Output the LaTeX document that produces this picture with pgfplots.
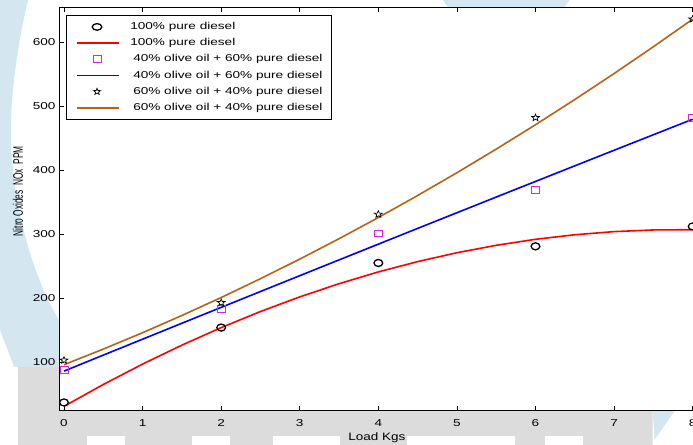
\documentclass[border=0pt]{standalone}
\usepackage{fontspec}
\setmainfont{Liberation Sans}[FakeStretch=1.36]
\newfontfamily\plainsans{Liberation Sans}
\usepackage{graphicx}
\usepackage{pgfplots}
\pgfplotsset{compat=1.18}
\definecolor{mybrown}{RGB}{180,100,25}
\definecolor{mymag}{RGB}{210,40,210}
\definecolor{wmgray}{RGB}{220,220,220}
\definecolor{wmblue}{RGB}{212,230,240}

\pgfdeclareplotmark{ostar}{%
  \pgfpathmoveto{\pgfpointpolar{90}{\pgfplotmarksize}}%
  \pgfpathlineto{\pgfpointpolar{126}{0.42\pgfplotmarksize}}%
  \pgfpathlineto{\pgfpointpolar{162}{\pgfplotmarksize}}%
  \pgfpathlineto{\pgfpointpolar{198}{0.42\pgfplotmarksize}}%
  \pgfpathlineto{\pgfpointpolar{234}{\pgfplotmarksize}}%
  \pgfpathlineto{\pgfpointpolar{270}{0.42\pgfplotmarksize}}%
  \pgfpathlineto{\pgfpointpolar{306}{\pgfplotmarksize}}%
  \pgfpathlineto{\pgfpointpolar{342}{0.42\pgfplotmarksize}}%
  \pgfpathlineto{\pgfpointpolar{18}{\pgfplotmarksize}}%
  \pgfpathlineto{\pgfpointpolar{54}{0.42\pgfplotmarksize}}%
  \pgfpathclose
  \pgfusepathqstroke
}

\begin{document}
\begin{tikzpicture}
% background watermark
\begin{scope}[shift={(-59bp,411bp)}, x=1bp, y=-1bp]
\fill[wmblue] (0,0) -- (28,0) .. controls (14,60) and (8,120) .. (12,160) .. controls (18,230) and (40,290) .. (59,320) -- (59,367) -- (14,367) -- (0,330) -- cycle;
\fill[wmblue] (443,0) -- (570,0) -- (565,7) -- (448,7) -- cycle;
\fill[wmgray] (18,367) -- (59,367) -- (59,411) -- (653,411) -- (653,445) -- (18,445) -- cycle;
\fill[wmblue] (653,411) -- (675,411) -- (655,440) -- cycle;
\fill[white] (87,436) rectangle (125,445);
\fill[white] (192,436) rectangle (230,445);
\fill[white] (273,436) rectangle (340,445);
\fill[white] (407,436) rectangle (515,445);
\fill[white] (545,436) rectangle (583,445);
\end{scope}
\begin{axis}[
  width=641.9bp, height=404bp, scale only axis,
  xmin=-0.064, xmax=8.1, ymin=24, ymax=655,
  xtick={0,1,2,3,4,5,6,7,8},
  ytick={100,200,300,400,500,600},
  ytick pos=left,
  tick align=inside,
  major tick length=5bp,
  axis line style={line width=0.9bp},
  every tick/.style={black, line width=0.8bp},
  tick label style={font=\fontsize{10bp}{12bp}\selectfont},
  xticklabel style={yshift=-5bp},
  /pgf/number format/assume math mode=true,
  axis background/.style={fill=white},
  xlabel={\resizebox{57bp}{7.8bp}{\plainsans Load Kgs}},
  ylabel={\resizebox{90bp}{10bp}{\plainsans Nitro Oxides\ \ NOx\ \ PPM}},
  every axis x label/.style={at={(rel axis cs:0.4954,0)}, yshift=-30bp, anchor=base},
  every axis y label/.style={at={(rel axis cs:0,0.5438)}, xshift=-41bp, rotate=90, anchor=center},
  legend cell align=left,
  legend style={at={(rel axis cs:0.0115,0.9795)}, anchor=north west, draw=black, line width=0.9bp, fill=white,
    inner xsep=9bp, inner ysep=5.9bp, font=\fontsize{10bp}{12bp}\selectfont, row sep=5.6bp,
    nodes={inner sep=0pt, text height=8bp, text depth=2.6bp},
    /tikz/every odd column/.style={column sep=11bp}},
]
\addlegendimage{legend image code/.code={\draw[draw=black, line width=1.3bp] (20.5bp,0bp) ellipse [x radius=4.8bp, y radius=3.3bp];}}
\addlegendentry{100\% pure diesel}
\addlegendimage{legend image code/.code={\draw[draw=red, line width=1.5bp, solid] (0bp,0bp) -- (42bp,0bp);}}
\addlegendentry{100\% pure diesel}
\addlegendimage{legend image code/.code={\draw[draw=mymag, line width=0.9bp] (16.48bp,-3.35bp) rectangle (24.52bp,3.35bp);}}
\addlegendentry{\hspace{3bp}40\% olive oil + 60\% pure diesel\hspace{3bp}}
\addlegendimage{legend image code/.code={\draw[draw=blue, line width=1.5bp, solid] (0bp,0bp) -- (42bp,0bp);}}
\addlegendentry{\hspace{3bp}40\% olive oil + 60\% pure diesel\hspace{3bp}}
\addlegendimage{legend image code/.code={\begin{scope}[shift={(20.5bp,0bp)}, xscale=1.1, draw=black, line width=0.7bp]\pgfsetplotmarksize{3.4bp}\pgfuseplotmark{ostar}\end{scope}}}
\addlegendentry{\hspace{3bp}60\% olive oil + 40\% pure diesel\hspace{3bp}}
\addlegendimage{legend image code/.code={\draw[draw=mybrown, line width=1.5bp, solid] (0bp,0bp) -- (42bp,0bp);}}
\addlegendentry{\hspace{3bp}60\% olive oil + 40\% pure diesel\hspace{3bp}}

\addplot[forget plot, only marks, black, mark=o, mark size=3.5bp, mark options={xscale=1.25, line width=1.3bp}]
  coordinates {(0,37) (2,154) (4,255) (6,281) (8,312)};
\addplot[forget plot, red, line width=1.6bp, no marks]
  coordinates {(0,31) (0.5,65.1) (1,97) (1.5,126.6) (2,154) (2.5,179.1) (3,202) (3.5,222.6) (4,241) (4.5,257.1) (5,271) (5.5,282.6) (6,292) (6.5,299.1) (7,304) (7.5,306.6) (8,307)};
\addplot[forget plot, only marks, mymag, mark=square, mark size=3.35bp, mark options={xscale=1.2, line width=0.9bp}]
  coordinates {(0,88) (2,183) (4,301) (6,369) (8,482)};
\addplot[forget plot, blue, line width=1.6bp, no marks]
  coordinates {(0,86) (0.5,111) (1,135.9) (1.5,160.8) (2,185.6) (2.5,210.4) (3,235.1) (3.5,259.8) (4,284.4) (4.5,309) (5,333.5) (5.5,358) (6,382.4) (6.5,406.8) (7,431.1) (7.5,455.4) (8,479.6)};
\addplot[forget plot, only marks, black, mark=ostar, mark size=3.6bp, mark options={xscale=1.15, line width=0.7bp}]
  coordinates {(0,103) (2,193) (4,331) (6,482) (8,636)};
\addplot[forget plot, mybrown, line width=1.6bp, no marks]
  coordinates {(0,96) (0.5,120.4) (1,146) (1.5,172.9) (2,201) (2.5,230.4) (3,261) (3.5,292.9) (4,326) (4.5,360.4) (5,396) (5.5,432.9) (6,471) (6.5,510.4) (7,551) (7.5,592.9) (8,636)};
\coordinate (SW) at (rel axis cs:0,0);
\coordinate (NW) at (rel axis cs:0,1);
\coordinate (R) at (axis cs:8.004,24);
\end{axis}
\pgfresetboundingbox
\path[use as bounding box] ([xshift=-59bp,yshift=-34bp]SW) rectangle ([yshift=7bp]NW -| R);
\end{tikzpicture}
\end{document}
